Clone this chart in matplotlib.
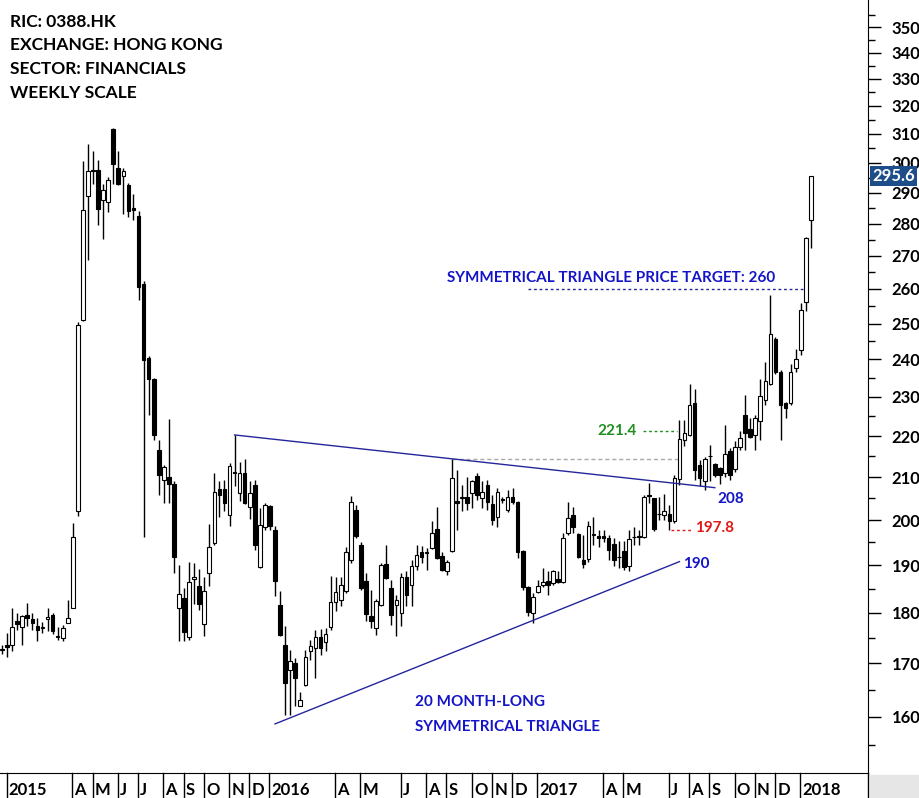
import matplotlib.pyplot as plt
from matplotlib.patches import Rectangle
from matplotlib.ticker import FixedLocator, NullFormatter, FuncFormatter
import numpy as np
import pandas as pd

plt.rcParams['font.family'] = ['Lato', 'DejaVu Sans']
plt.rcParams['font.weight'] = 'bold'

# weekly bars (friday), 0388.HK
dates = pd.date_range('2014-12-26', periods=161, freq='W-FRI')

opens = [172.5, 173.6, 173.5, 178.4, 177.1, 179.5, 178.7, 177.3, 177.0, 178.7,
         179.5, 175.4, 175.0, 177.9, 181.0, 202.1, 251.1, 289.0, 297.6, 297.6,
         287.6, 286.9, 311.9, 298.2, 295.6, 292.6, 284.9, 282.5, 261.5, 240.4,
         234.7, 216.6, 209.3, 210.1, 208.4, 181.0, 183.0, 175.1, 187.1, 185.6,
         177.7, 188.3, 194.8, 207.2, 207.2, 201.2, 211.3, 206.2, 210.9, 203.0,
         208.2, 189.6, 198.5, 203.2, 197.8, 181.7, 173.6, 168.8, 170.0, 162.0,
         165.9, 172.4, 173.0, 175.1, 174.1, 177.1, 182.2, 182.7, 184.6, 191.1,
         202.3, 194.5, 186.7, 179.3, 176.9, 181.7, 190.2, 185.2, 181.7, 179.9,
         187.6, 185.8, 189.9, 193.0, 192.7, 193.8, 197.9, 192.0, 188.7, 193.2,
         204.4, 205.2, 205.4, 206.2, 210.2, 205.2, 208.2, 203.6, 200.8, 204.6,
         202.2, 205.3, 204.2, 193.2, 185.4, 179.9, 184.3, 185.8, 186.7, 186.2,
         187.0, 186.5, 197.1, 201.2, 196.9, 191.2, 191.4, 196.6, 196.4, 196.4,
         196.0, 194.7, 191.7, 193.2, 189.8, 196.1, 196.3, 196.2, 205.9, 205.0,
         201.3, 201.2, 201.3, 199.8, 209.5, 219.1, 220.3, 228.4, 212.9, 209.1,
         215.0, 213.2, 212.1, 210.9, 216.2, 211.9, 217.4, 225.4, 221.8, 220.2,
         223.7, 229.3, 233.5, 245.7, 236.5, 228.5, 228.5, 237.6, 242.7, 256.2,
         281.2]
highs = [173.5, 175.9, 181.0, 179.9, 179.6, 182.0, 180.0, 178.9, 178.2, 181.0,
         180.0, 177.2, 177.6, 182.7, 199.3, 250.5, 300.7, 306.4, 304.0, 301.0,
         293.0, 295.1, 312.2, 304.2, 298.2, 293.2, 289.6, 284.0, 262.3, 241.0,
         235.0, 219.1, 212.9, 224.3, 209.0, 190.1, 185.2, 190.8, 190.6, 189.2,
         187.6, 199.2, 210.9, 209.0, 209.3, 213.5, 220.3, 213.7, 214.3, 209.0,
         209.3, 202.7, 204.0, 203.5, 198.7, 184.5, 177.3, 172.6, 171.0, 164.6,
         172.6, 174.6, 176.6, 176.7, 176.9, 187.7, 187.6, 187.6, 194.1, 205.5,
         203.5, 195.0, 188.3, 184.8, 182.9, 190.5, 194.5, 186.9, 183.8, 188.4,
         188.8, 191.2, 194.5, 194.3, 193.8, 199.7, 203.0, 193.0, 191.2, 214.3,
         211.7, 208.2, 210.1, 209.3, 210.9, 209.0, 209.3, 205.8, 207.4, 205.4,
         207.0, 207.4, 204.3, 193.4, 185.6, 184.1, 186.9, 189.4, 188.7, 189.0,
         188.7, 197.1, 204.2, 203.0, 197.1, 196.7, 199.7, 200.8, 197.8, 197.8,
         196.7, 196.0, 195.3, 195.3, 197.8, 198.5, 197.8, 205.8, 208.6, 205.2,
         205.4, 206.0, 203.5, 210.5, 224.1, 224.1, 233.3, 232.1, 214.1, 214.8,
         217.8, 213.5, 212.5, 222.8, 217.0, 218.7, 221.2, 230.6, 224.5, 225.4,
         234.8, 239.4, 258.2, 246.3, 237.1, 228.8, 238.8, 243.0, 256.0, 275.8,
         295.6]
lows = [171.8, 171.3, 172.3, 176.6, 173.6, 177.3, 176.6, 174.3, 176.0, 176.3,
        175.7, 174.6, 174.3, 177.9, 181.0, 201.0, 250.7, 268.7, 292.9, 279.6,
        275.1, 283.7, 292.9, 292.5, 283.2, 282.2, 281.2, 256.8, 196.3, 225.4,
        219.1, 205.8, 204.0, 204.0, 188.3, 174.3, 174.3, 174.5, 181.9, 180.6,
        175.4, 185.6, 194.5, 200.8, 202.0, 198.6, 207.8, 204.3, 203.8, 200.2,
        193.4, 189.4, 197.8, 197.8, 183.5, 175.3, 160.4, 160.4, 161.9, 161.9,
        165.6, 170.7, 167.1, 171.6, 172.3, 176.6, 180.3, 181.4, 184.1, 190.5,
        196.0, 184.8, 178.3, 176.9, 175.6, 181.5, 187.0, 177.6, 175.4, 177.3,
        181.4, 181.4, 188.9, 190.5, 189.1, 193.6, 191.4, 188.7, 188.0, 193.0,
        197.8, 202.0, 202.3, 202.7, 204.6, 202.7, 202.3, 198.9, 198.5, 204.0,
        201.8, 203.8, 191.6, 184.8, 179.3, 177.9, 184.1, 185.4, 183.8, 185.8,
        186.2, 186.3, 196.7, 197.1, 191.6, 189.4, 190.8, 194.5, 194.1, 195.0,
        191.2, 189.8, 189.4, 189.0, 188.7, 194.5, 194.5, 196.0, 204.0, 197.6,
        200.1, 200.1, 197.8, 199.3, 208.2, 217.6, 220.0, 209.3, 207.8, 207.0,
        209.0, 210.1, 208.4, 210.1, 209.3, 211.3, 216.6, 216.6, 219.6, 216.6,
        219.1, 228.0, 233.2, 236.0, 219.1, 224.5, 228.0, 236.7, 241.3, 253.7,
        272.5]
closes = [172.7, 173.1, 177.1, 177.7, 179.3, 178.9, 177.9, 176.6, 177.1, 179.1,
          176.3, 175.2, 176.9, 178.9, 196.2, 249.6, 284.4, 297.4, 297.3, 284.6,
          291.0, 294.2, 299.5, 292.9, 297.3, 283.9, 284.4, 260.7, 239.9, 234.7,
          220.3, 210.5, 212.4, 208.4, 191.9, 183.9, 176.1, 186.4, 187.6, 181.9,
          184.6, 194.0, 206.6, 205.8, 204.0, 212.7, 210.9, 210.9, 204.0, 206.2,
          194.5, 198.9, 203.5, 198.7, 186.7, 175.6, 166.2, 170.4, 167.1, 163.1,
          171.2, 173.3, 175.1, 173.0, 175.7, 182.2, 184.3, 185.8, 192.9, 204.1,
          196.5, 185.1, 179.8, 178.4, 182.4, 190.1, 187.3, 179.6, 182.7, 187.6,
          183.8, 189.9, 192.3, 191.8, 192.9, 197.2, 191.6, 189.0, 190.8, 209.7,
          203.9, 205.4, 204.0, 209.0, 205.8, 206.6, 204.2, 200.1, 206.4, 204.8,
          205.3, 204.2, 193.0, 185.4, 180.1, 183.3, 185.6, 186.5, 185.9, 188.7,
          186.4, 196.0, 200.4, 198.4, 191.8, 190.3, 198.7, 196.8, 196.0, 196.0,
          193.4, 191.1, 191.9, 189.6, 195.8, 196.3, 196.4, 205.3, 205.6, 197.9,
          201.5, 202.0, 199.9, 209.9, 219.4, 220.8, 227.8, 211.7, 209.7, 214.3,
          215.2, 210.5, 210.5, 215.6, 210.5, 217.4, 219.6, 220.8, 219.8, 224.5,
          230.2, 234.1, 247.0, 236.7, 228.0, 227.1, 236.7, 240.1, 253.8, 275.4,
          295.6]

# months that get a label in the date strip
month_labels = ['2015-01', '2015-04', '2015-05', '2015-06', '2015-07', '2015-08',
                '2015-09', '2015-10', '2015-11', '2015-12', '2016-01', '2016-04',
                '2016-05', '2016-07', '2016-08', '2016-09', '2016-10', '2016-11',
                '2016-12', '2017-01', '2017-04', '2017-05', '2017-07', '2017-08',
                '2017-09', '2017-10', '2017-11', '2017-12', '2018-01']

# triangle trendlines (date, price) and their end labels
upper_dates = ['2015-11-13', '2017-09-08']
upper_prices = [220.3, 207.5]
lower_dates = ['2016-01-08', '2017-07-21']
lower_prices = [158.7, 190.8]
upper_label = 208
lower_label = 190

breakout_high = 214.3
retest_high = 221.4
retest_low = 197.8
price_target = 260
last_price = closes[-1]

yticks_major = np.arange(160, 360, 10)
yticks_minor = np.arange(155, 360, 10)

BLUE = '#1414c8'
LINE_BLUE = '#25259c'


def pos(d):
    return dates.get_loc(pd.Timestamp(d))


fig = plt.figure(figsize=(9.19, 7.98), dpi=100)
ax = fig.add_axes([0.0, 0.0313, 0.9445, 0.9687])

o = np.array(opens)
h = np.array(highs)
l = np.array(lows)
c = np.array(closes)
x = np.arange(len(dates))

# candles
ax.vlines(x, l, h, color='black', linewidth=1, zorder=2)
up = c >= o
ax.bar(x[up], c[up] - o[up], bottom=o[up], width=0.72, color='white',
       edgecolor='black', linewidth=0.8, zorder=3)
ax.bar(x[~up], o[~up] - c[~up], bottom=c[~up], width=0.72, color='black',
       edgecolor='black', linewidth=0.8, zorder=3)

# triangle
ax.plot([pos(d) for d in upper_dates], upper_prices, color=LINE_BLUE, lw=1, zorder=4)
ax.plot([pos(d) for d in lower_dates], lower_prices, color=LINE_BLUE, lw=1, zorder=4)

ax.plot([89, 134], [breakout_high] * 2, color='#aaaaaa', lw=1, ls=(0, (3, 2)), zorder=1)
ax.plot([126.8, 133.6], [retest_high] * 2, color='#1f8f1f', lw=1, ls=(0, (2, 2)), zorder=4)
ax.plot([132.3, 136.5], [retest_low] * 2, color='#e01818', lw=1, ls=(0, (2, 2)), zorder=4)
ax.plot([104, 158.8], [price_target] * 2, color=LINE_BLUE, lw=1, ls=(0, (2, 2)), zorder=4)

ax.text(152.9, 262.1, 'SYMMETRICAL TRIANGLE PRICE TARGET: %d' % price_target,
        color=BLUE, fontsize=11, ha='right', va='baseline')
ax.text(81.7, 162.0, '20 MONTH-LONG', color=BLUE, fontsize=11, va='baseline')
ax.text(81.7, 157.5, 'SYMMETRICAL TRIANGLE', color=BLUE, fontsize=11, va='baseline')
ax.text(125.6, 220.3, '%.1f' % retest_high, color='#1f8f1f', fontsize=11,
        ha='right', va='baseline')
ax.text(137.1, 197.4, '%.1f' % retest_low, color='#e01818', fontsize=11, va='baseline')
ax.text(141.6, 204.0, '%d' % upper_label, color=BLUE, fontsize=11, va='baseline')
ax.text(134.7, 189.4, '%d' % lower_label, color=BLUE, fontsize=11, va='baseline')

# axes
ax.set_yscale('log')
ax.set_ylim(150.1, 360.9)
ax.set_xlim(-0.4, 171.3)
ax.yaxis.set_major_locator(FixedLocator(yticks_major))
ax.yaxis.set_minor_locator(FixedLocator(yticks_minor))
ax.yaxis.set_major_formatter(FuncFormatter(lambda v, p: '%d' % v))
ax.yaxis.set_minor_formatter(NullFormatter())
ax.yaxis.tick_right()
ax.tick_params(axis='y', which='major', length=9, width=1, pad=8, labelsize=12)
ax.tick_params(axis='y', which='minor', length=5, width=1)
ax.set_xticks([])
ax.spines['left'].set_visible(False)
ax.spines['top'].set_visible(False)

# last price tag (sits over the 300 label, as on the original)
ax.text(1.0045, last_price, '%.1f' % last_price, transform=ax.get_yaxis_transform(),
        color='white', fontsize=12, ha='left', va='center', zorder=10,
        bbox=dict(boxstyle='square,pad=0.14', fc='#1d4e89', ec='none'))

# date strip under the chart
xt = ax.get_xaxis_transform()
for m in month_labels:
    ts = pd.Timestamp(m + '-01')
    i = int(np.searchsorted(dates, ts))
    label = str(ts.year) if ts.month == 1 else 'JFMAMJJASOND'[ts.month - 1]
    ax.plot([i - 0.1, i - 0.1], [0, -0.033], transform=xt, color='black',
            lw=1, clip_on=False)
    ax.text(i + 0.35, -0.0285, label, transform=xt, fontsize=12, va='baseline')
ax.plot([1, 1], [0, -0.033], transform=ax.transAxes, color='black', lw=1, clip_on=False)
fig.patches.append(Rectangle((870 / 919, 0), 49 / 919, 23 / 798, transform=fig.transFigure,
                             color='#e6e6e6', zorder=0))

# header
header = ['RIC: 0388.HK', 'EXCHANGE: HONG KONG', 'SECTOR: FINANCIALS', 'WEEKLY SCALE']
for k, s in enumerate(header):
    fig.text(10 / 919, 1 - (26.7 + 23.8 * k) / 798, s, fontsize=12.5, va='baseline')

fig.savefig('out.png', dpi=100)
